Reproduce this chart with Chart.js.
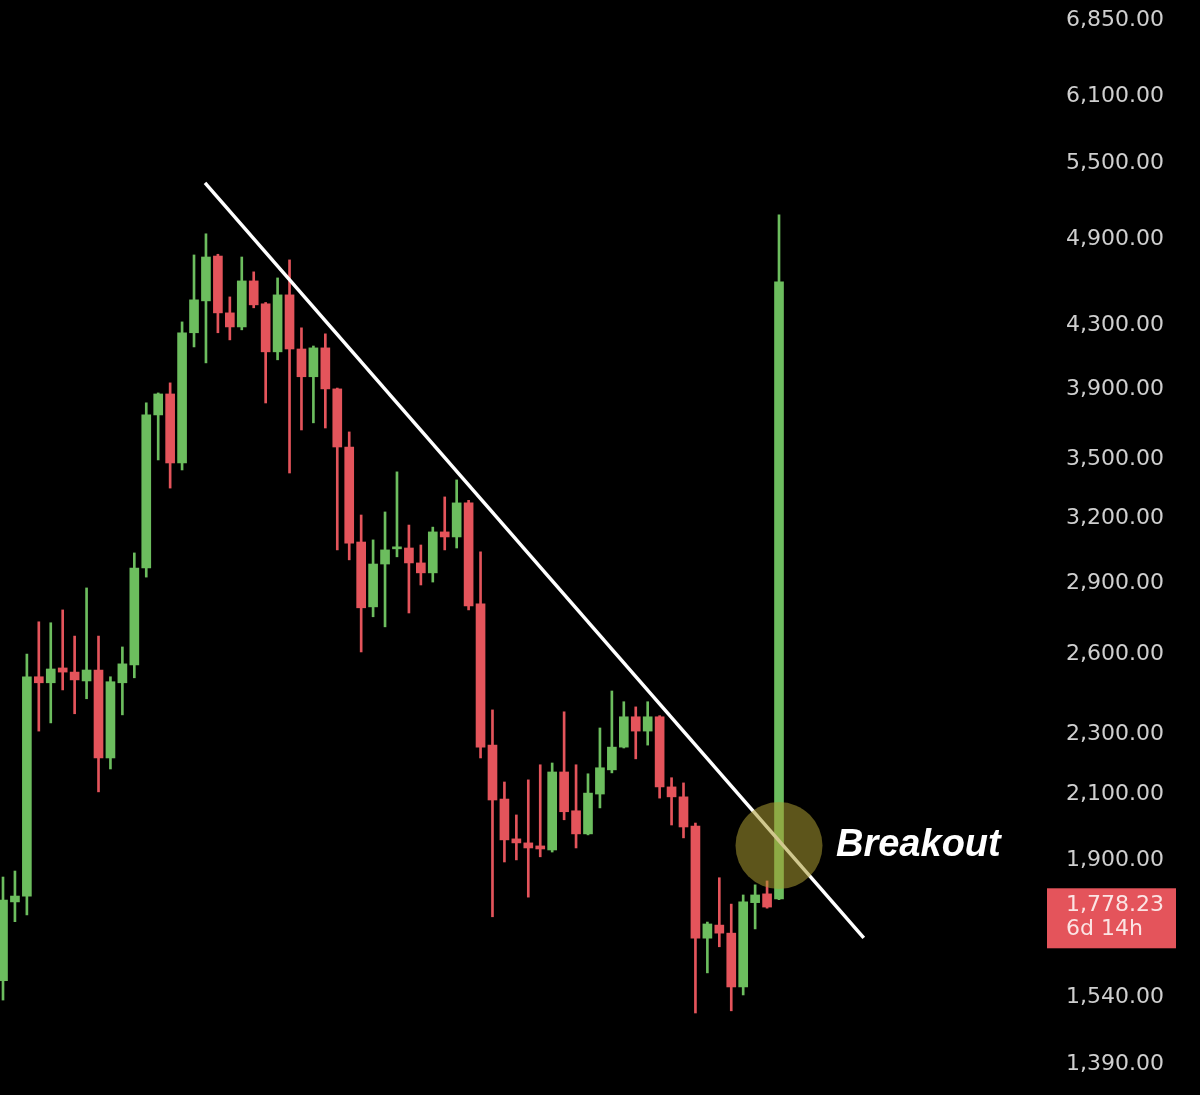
<!DOCTYPE html>
<html>
<head>
<meta charset="utf-8">
<title>Breakout</title>
<script src="https://cdn.jsdelivr.net/npm/chart.js@4.4.1/dist/chart.umd.min.js"></script>
<style>
  html, body { margin: 0; padding: 0; background: #000; overflow: hidden; }
  #wrap { width: 1200px; height: 1095px; }
</style>
</head>
<body>
<div id="wrap"><canvas id="chart" width="1200" height="1095"></canvas></div>
<script>
// --- candle data (oldest first) ---
const opens = [1580, 1782, 1798, 2513, 2490, 2547, 2531, 2497, 2539, 2220,
    2490, 2559, 2967, 3748, 3870, 3483, 4249, 4461, 4777, 4380,
    4287, 4599, 4441, 4127, 4502, 4145, 3973, 4152, 3900, 3569,
    3087, 2796, 2985, 3055, 3059, 2990, 2945, 3135, 3111, 3277,
    2809, 2264, 2085, 1962, 1950, 1941, 1929, 2173, 2048, 1977,
    2101, 2180, 2257, 2364, 2313, 2364, 2124, 2092, 2001, 1686,
    1720, 1699, 1565, 1780, 1804, 1790];
const highs = [1851, 1868, 2602, 2733, 2729, 2783, 2674, 2878, 2674, 2513,
    2630, 3036, 3818, 3876, 3936, 4320, 4785, 4942, 4790, 4488,
    4770, 4663, 4450, 4620, 4749, 4281, 4164, 4242, 3905, 3652,
    3217, 3097, 3232, 3436, 3168, 3073, 3158, 3307, 3394, 3290,
    3041, 2389, 2140, 2035, 2147, 2197, 2203, 2382, 2197, 2167,
    2324, 2459, 2419, 2400, 2419, 2368, 2154, 2137, 2010, 1728,
    1849, 1776, 1801, 1829, 1840, 5087];
const lows = [1534, 1729, 1747, 2313, 2342, 2463, 2375, 2430, 2108, 2183,
    2371, 2509, 2926, 3499, 3352, 3446, 4158, 4058, 4249, 4203,
    4268, 4414, 3817, 4077, 3430, 3663, 3703, 3674, 3050, 3004,
    2610, 2754, 2712, 3018, 2770, 2891, 2904, 3050, 3059, 2783,
    2220, 1742, 1894, 1900, 1795, 1909, 1923, 2020, 1935, 1974,
    2057, 2170, 2254, 2217, 2264, 2088, 2004, 1965, 1504, 1599,
    1664, 1509, 1546, 1710, 1765, 1788];
const closes = [1787, 1798, 2513, 2490, 2543, 2531, 2501, 2539, 2220, 2494,
    2563, 2967, 3748, 3870, 3483, 4249, 4468, 4770, 4380, 4287,
    4599, 4434, 4127, 4502, 4145, 3973, 4152, 3900, 3569, 3082,
    2792, 2985, 3050, 3064, 2990, 2945, 3135, 3111, 3277, 2800,
    2257, 2082, 1959, 1950, 1935, 1932, 2173, 2045, 1977, 2104,
    2187, 2257, 2364, 2313, 2364, 2124, 2092, 1998, 1686, 1723,
    1699, 1565, 1782, 1801, 1768, 4592];

// right axis labels
const tickValues = [1390, 1540, 1900, 2100, 2300, 2600, 2900, 3200, 3500, 3900, 4300, 4900, 5500, 6100, 6850];

// trend line (candle index, price)
const trendX = [16.92, 72.1];
const trendY = [5341, 1687];

// breakout marker + price tag
const breakoutX = 65;
const breakoutY = 1942;
const breakoutText = 'Breakout';
const lastPrice = 1778.23;
const countdown = '6d 14h';

const GREEN = '#6cbd5e';
const RED = '#e4545b';

function formatPrice(v) {
    return v.toLocaleString('en-US', { minimumFractionDigits: 2, maximumFractionDigits: 2 });
}

const candleColors = opens.map((o, i) => closes[i] >= o ? GREEN : RED);
const wickData = opens.map((o, i) => ({ x: i, y: [lows[i], highs[i]] }));
const bodyData = opens.map((o, i) => ({ x: i, y: [o, closes[i]] }));
const trendData = trendX.map((x, i) => ({ x: x, y: trendY[i] }));

// price tag on the axis and the "Breakout" caption
const annotations = {
    id: 'annotations',
    afterDraw(chart) {
        const { ctx, chartArea, scales: { x, y } } = chart;
        const py = y.getPixelForValue(lastPrice);
        ctx.save();
        ctx.fillStyle = RED;
        ctx.fillRect(chartArea.right + 2, py - 15, 129, 60);
        ctx.fillStyle = '#fbe4e4';
        ctx.font = '22px "DejaVu Sans"';
        ctx.textBaseline = 'middle';
        ctx.textAlign = 'left';
        ctx.fillText(formatPrice(lastPrice), chartArea.right + 21, py + 2);
        ctx.fillText(countdown, chartArea.right + 21, py + 26);

        const cx = x.getPixelForValue(breakoutX);
        const cy = y.getPixelForValue(breakoutY);
        ctx.fillStyle = '#ffffff';
        ctx.font = 'italic bold 38px "Liberation Sans"';
        ctx.textBaseline = 'alphabetic';
        ctx.fillText(breakoutText, cx + 57, cy + 10);
        ctx.restore();
    }
};

const chartCtx = document.getElementById('chart').getContext('2d');
new Chart(chartCtx, {
    type: 'bar',
    data: {
        datasets: [
            {
                type: 'bubble',
                data: [{ x: breakoutX, y: breakoutY, r: 43.5 }],
                backgroundColor: 'rgba(170, 155, 50, 0.55)',
                borderWidth: 0,
                order: 0
            },
            {
                type: 'line',
                data: trendData,
                borderColor: '#ffffff',
                borderWidth: 3.5,
                pointRadius: 0,
                fill: false,
                order: 1
            },
            {
                data: bodyData,
                backgroundColor: candleColors,
                barThickness: 9,
                minBarLength: 2,
                grouped: false,
                order: 2
            },
            {
                data: wickData,
                backgroundColor: candleColors,
                barThickness: 2,
                grouped: false,
                order: 3
            }
        ]
    },
    options: {
        responsive: false,
        animation: false,
        layout: { padding: 0, autoPadding: false },
        plugins: {
            legend: { display: false },
            tooltip: { enabled: false }
        },
        scales: {
            x: {
                type: 'linear',
                display: false,
                offset: false,
                min: -0.2513,
                max: 87.28
            },
            y: {
                type: 'logarithmic',
                position: 'right',
                min: 1327,
                max: 7062,
                bounds: 'data',
                grid: { display: false, drawTicks: false },
                border: { display: false },
                afterBuildTicks: (scale) => {
                    scale.ticks = tickValues.map(v => ({ value: v }));
                },
                afterFit: (scale) => {
                    // full-height plot: no room kept for the end labels
                    scale.width = 155;
                    scale.paddingTop = 0;
                    scale.paddingBottom = 0;
                },
                ticks: {
                    autoSkip: false,
                    padding: 21,
                    color: '#cfcfcf',
                    font: { family: '"DejaVu Sans"', size: 22 },
                    callback: (v) => formatPrice(v)
                }
            }
        }
    },
    plugins: [annotations]
});
</script>
</body>
</html>
